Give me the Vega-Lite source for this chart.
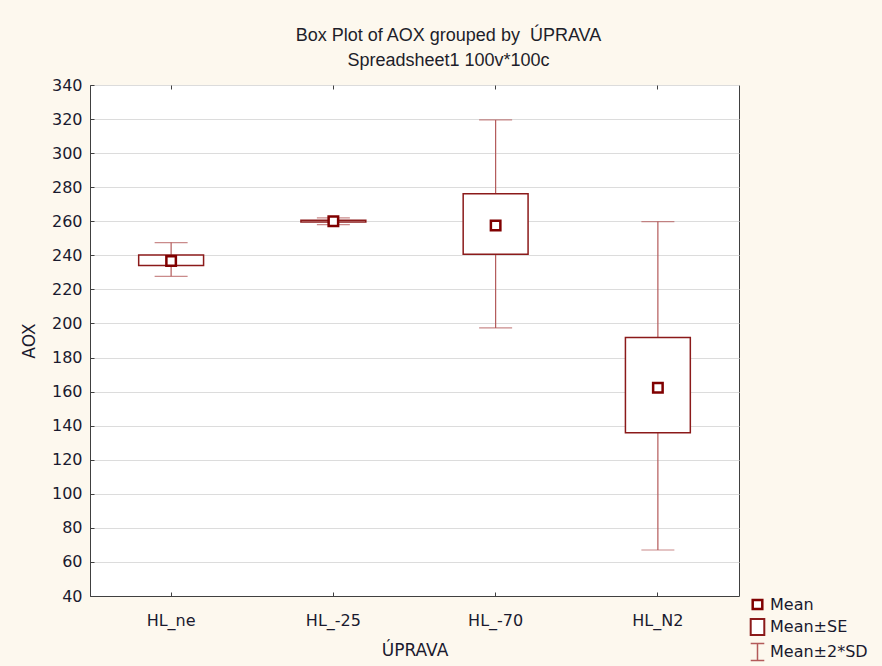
{
  "$schema": "https://vega.github.io/schema/vega-lite/v6.json",
  "autosize": {"type": "none"},
  "padding": {"left": 90, "top": 85, "right": 143, "bottom": 70},
  "width": 649,
  "height": 511,
  "background": "#fdf8ee",
  "title": {
    "text": "Box Plot of AOX grouped by \u00a0ÚPRAVA",
    "subtitle": "Spreadsheet1 100v*100c",
    "font": "Liberation Sans",
    "subtitleFont": "Liberation Sans",
    "fontSize": 18,
    "subtitleFontSize": 18,
    "fontWeight": "normal",
    "color": "#1e1e2a",
    "subtitleColor": "#1e1e2a",
    "anchor": "middle",
    "dx": 34,
    "offset": 7,
    "subtitlePadding": 7
  },
  "config": {
    "view": {"stroke": "#404040", "strokeWidth": 1, "fill": "white"},
    "axis": {
      "labelFont": "DejaVu Sans",
      "titleFont": "DejaVu Sans",
      "labelFontSize": 16,
      "titleFontSize": 17,
      "titleFontWeight": "normal",
      "labelColor": "#1a1a2e",
      "titleColor": "#1a1a2e",
      "domainColor": "#404040",
      "tickColor": "#404040",
      "gridColor": "#dcdcdc",
      "labelOverlap": false
    },
    "legend": {
      "labelFont": "DejaVu Sans",
      "labelFontSize": 16,
      "labelColor": "#1a1a2e"
    }
  },
  "data": {
    "values": [
      {"cat": "HL_ne", "mean": 236.7, "se_lo": 234.0, "se_hi": 240.2, "sd_lo": 227.7, "sd_hi": 247.5},
      {"cat": "HL_-25", "mean": 260.0, "se_lo": 259.6, "se_hi": 260.6, "sd_lo": 258.0, "sd_hi": 262.0},
      {"cat": "HL_-70", "mean": 257.5, "se_lo": 240.6, "se_hi": 276.1, "sd_lo": 197.4, "sd_hi": 319.5},
      {"cat": "HL_N2", "mean": 162.3, "se_lo": 135.9, "se_hi": 191.7, "sd_lo": 67.0, "sd_hi": 259.8}
    ]
  },
  "resolve": {"axis": {"x": "independent"}},
  "layer": [
    {
      "mark": {"type": "rule", "color": "#b35a5a", "strokeWidth": 1.2},
      "encoding": {
        "x": {
          "field": "cat", "type": "nominal", "sort": ["HL_ne", "HL_-25", "HL_-70", "HL_N2"],
          "scale": {"type": "band", "domain": ["HL_ne", "HL_-25", "HL_-70", "HL_N2"], "paddingInner": 0, "paddingOuter": 0},
          "axis": {"title": "ÚPRAVA", "labelAngle": 0, "tickSize": -4, "labelPadding": 20, "titlePadding": 14, "grid": false}
        },
        "y": {
          "field": "sd_lo", "type": "quantitative",
          "scale": {"domain": [40, 340], "nice": false, "zero": false},
          "axis": {"title": "AOX", "values": [40,60,80,100,120,140,160,180,200,220,240,260,280,300,320,340], "tickSize": -4, "labelPadding": 12, "titlePadding": 13, "grid": true}
        },
        "y2": {"field": "sd_hi"}
      }
    },
    {
      "mark": {"type": "tick", "color": "#b35a5a", "thickness": 1.2, "size": 33},
      "encoding": {
        "x": {"field": "cat", "type": "nominal", "sort": ["HL_ne", "HL_-25", "HL_-70", "HL_N2"],
          "axis": {"orient": "top", "labels": false, "title": null, "domain": false, "tickSize": -4, "grid": false}},
        "y": {"field": "sd_lo", "type": "quantitative",
          "axis": {"title": "AOX", "values": [40,60,80,100,120,140,160,180,200,220,240,260,280,300,320,340], "tickSize": -4, "labelPadding": 12, "titlePadding": 13, "grid": true}}
      }
    },
    {
      "mark": {"type": "tick", "color": "#b35a5a", "thickness": 1.2, "size": 33},
      "encoding": {
        "x": {"field": "cat", "type": "nominal", "sort": ["HL_ne", "HL_-25", "HL_-70", "HL_N2"], "axis": null},
        "y": {"field": "sd_hi", "type": "quantitative",
          "axis": {"title": "AOX", "values": [40,60,80,100,120,140,160,180,200,220,240,260,280,300,320,340], "tickSize": -4, "labelPadding": 12, "titlePadding": 13, "grid": true}}
      }
    },
    {
      "mark": {"type": "bar", "fill": "white", "stroke": "#8b1a1a", "strokeWidth": 1.5, "width": {"band": 0.4}},
      "encoding": {
        "x": {"field": "cat", "type": "nominal", "sort": ["HL_ne", "HL_-25", "HL_-70", "HL_N2"], "axis": null},
        "y": {"field": "se_lo", "type": "quantitative",
          "axis": {"title": "AOX", "values": [40,60,80,100,120,140,160,180,200,220,240,260,280,300,320,340], "tickSize": -4, "labelPadding": 12, "titlePadding": 13, "grid": true}},
        "y2": {"field": "se_hi"}
      }
    },
    {
      "mark": {"type": "point", "shape": "square", "size": 90, "filled": true, "fill": "white", "stroke": "#800000", "strokeWidth": 2.5, "opacity": 1},
      "encoding": {
        "x": {"field": "cat", "type": "nominal", "sort": ["HL_ne", "HL_-25", "HL_-70", "HL_N2"], "axis": null},
        "y": {"field": "mean", "type": "quantitative",
          "axis": {"title": "AOX", "values": [40,60,80,100,120,140,160,180,200,220,240,260,280,300,320,340], "tickSize": -4, "labelPadding": 12, "titlePadding": 13, "grid": true}}
      }
    },
    {
      "data": {"values": [{"stat": "Mean"}, {"stat": "Mean±SE"}, {"stat": "Mean±2*SD"}]},
      "mark": {"type": "point", "filled": true, "fill": "white", "size": 256, "opacity": 1, "invalid": "filter"},
      "encoding": {
        "y": {"field": "v", "type": "quantitative",
          "axis": {"title": "AOX", "values": [40,60,80,100,120,140,160,180,200,220,240,260,280,300,320,340], "tickSize": -4, "labelPadding": 12, "titlePadding": 13, "grid": true}},
        "shape": {
          "field": "stat", "type": "nominal", "title": null,
          "scale": {
            "domain": ["Mean", "Mean±SE", "Mean±2*SD"],
            "range": ["M-0.6,-0.55H0.6V0.55H-0.6Z", "M-0.85,-1H0.85V1H-0.85Z", "M-0.85,-1.05H0.85M0,-1.05V1.05M-0.85,1.05H0.85"]
          },
          "legend": {"orient": "none", "legendX": 658, "legendY": 510, "symbolSize": 256, "rowPadding": 1, "labelOffset": 3}
        },
        "stroke": {
          "field": "stat", "type": "nominal", "title": null,
          "scale": {"domain": ["Mean", "Mean±SE", "Mean±2*SD"], "range": ["#800000", "#8b1a1a", "#b35a5a"]},
          "legend": {"orient": "none", "legendX": 658, "legendY": 510, "symbolSize": 256, "rowPadding": 1, "labelOffset": 3}
        },
        "strokeWidth": {
          "field": "stat", "type": "nominal", "title": null,
          "scale": {"domain": ["Mean", "Mean±SE", "Mean±2*SD"], "range": [2.5, 1.5, 1.2]},
          "legend": {"orient": "none", "legendX": 658, "legendY": 510, "symbolSize": 256, "rowPadding": 1, "labelOffset": 3}
        }
      }
    }
  ]
}
